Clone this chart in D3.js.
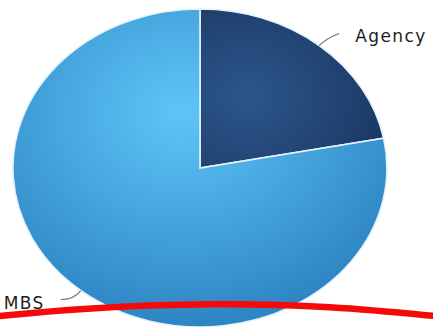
<!DOCTYPE html>
<html>
<head>
<meta charset="utf-8">
<script src="https://cdn.jsdelivr.net/npm/d3@7"></script>
<style>
  html, body { margin: 0; padding: 0; background: #fff; }
  svg { display: block; }
</style>
</head>
<body>
<svg id="chart" width="433" height="327"></svg>
<script>
// Portfolio split
const categories = ["Agency", "MBS"];
const shares = [22, 78];
const baseColors = [["#2c578c", "#172f58"], ["#5ec6f8", "#2a80bf"]];

const W = 433, H = 327;
const cx = 200, cy = 168, rx = 187, ry = 159;

const svg = d3.select("#chart");
const defs = svg.append("defs");

// Radial shading per slice, in unit-circle space
baseColors.forEach((c, i) => {
  const g = defs.append("radialGradient")
    .attr("id", "grad" + i)
    .attr("gradientUnits", "userSpaceOnUse")
    .attr("cx", i === 0 ? 0.25 : -0.1).attr("cy", i === 0 ? -0.45 : -0.35)
    .attr("r", i === 0 ? 1.0 : 1.45);
  g.append("stop").attr("offset", "0%").attr("stop-color", c[0]);
  g.append("stop").attr("offset", "100%").attr("stop-color", c[1]);
});

const pie = d3.pie().sort(null).value(d => d.v);
const arcs = pie(categories.map((k, i) => ({ k, v: shares[i] })));
const arc = d3.arc().innerRadius(0).outerRadius(1);

const g = svg.append("g")
  .attr("transform", `translate(${cx},${cy}) scale(${rx},${ry})`);

g.selectAll("path.slice")
  .data(arcs)
  .join("path")
  .attr("class", "slice")
  .attr("d", arc)
  .attr("fill", (d, i) => `url(#grad${i})`)
  .attr("stroke", "#e4f2fc")
  .attr("stroke-width", 1.6)
  .attr("vector-effect", "non-scaling-stroke");

// Leader lines and labels, anchored at each slice's mid-angle
function edgePoint(a) {
  return [cx + Math.sin(a) * rx, cy - Math.cos(a) * ry];
}
const labelStyle = sel => sel
  .attr("font-family", "DejaVu Sans, Verdana, sans-serif")
  .attr("font-size", 17)
  .attr("letter-spacing", 1.4)
  .attr("fill", "#1e1e1e");

arcs.forEach((d, i) => {
  const mid = (d.startAngle + d.endAngle) / 2;
  const [x0, y0] = edgePoint(mid);
  const right = Math.sin(mid) > 0;
  const s = right ? 1 : -1;
  const p1 = [x0 + s * 7, y0 - (right ? 7 : -9)];
  const p2 = [p1[0] + s * 13, p1[1] - (right ? 5 : 0)];
  svg.append("path")
    .attr("d", `M${x0},${y0} Q${p1[0]},${p1[1]} ${p2[0]},${p2[1]}`)
    .attr("fill", "none")
    .attr("stroke", "#777")
    .attr("stroke-width", 1.2);
  svg.append("text")
    .attr("x", p2[0] + s * 16)
    .attr("y", p2[1] + 9)
    .attr("text-anchor", right ? "start" : "end")
    .text(d.data.k)
    .call(labelStyle);
});

// Red curved stroke across the bottom
const curve = d3.line().curve(d3.curveBasis);
svg.append("path")
  .attr("d", curve([[-10, 317], [80, 308], [215, 303], [330, 306], [445, 317]]))
  .attr("fill", "none")
  .attr("stroke", "#f50a0a")
  .attr("stroke-width", 6.5)
  .attr("stroke-linecap", "round");
</script>
</body>
</html>
